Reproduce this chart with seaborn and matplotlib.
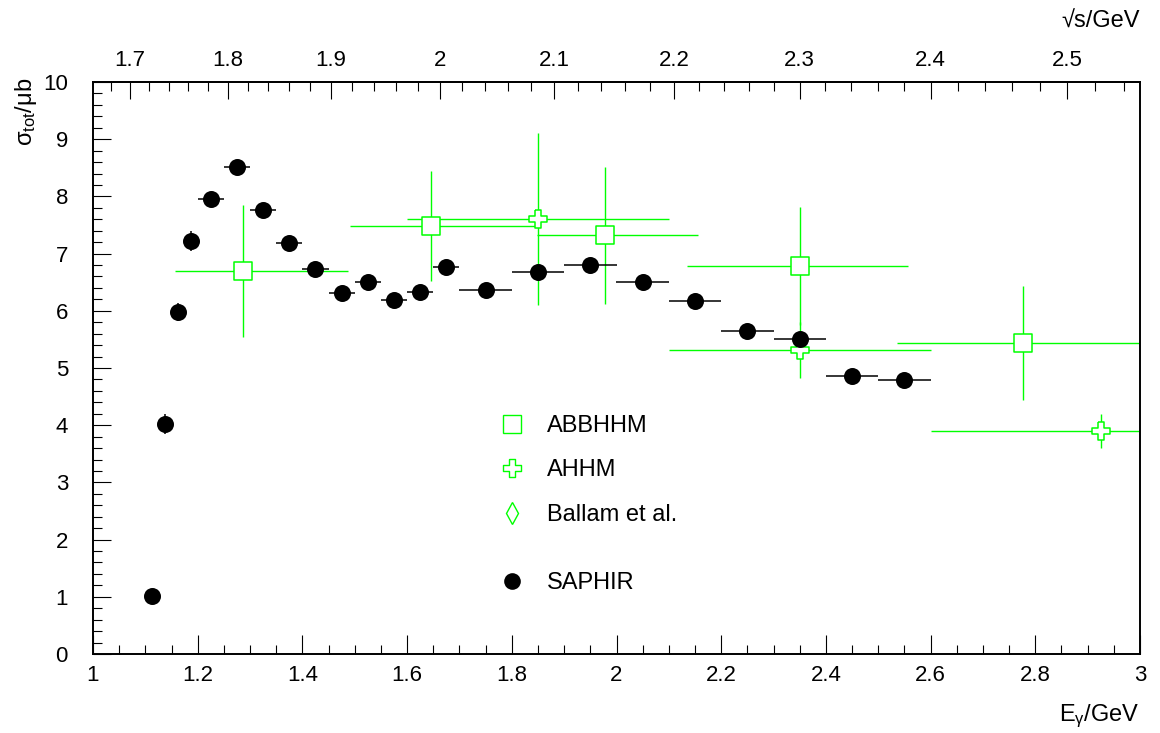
import numpy as np
import matplotlib.pyplot as plt
import seaborn as sns
from matplotlib.lines import Line2D
from matplotlib.markers import MarkerStyle
from matplotlib.path import Path
from matplotlib.ticker import MultipleLocator, FixedLocator

# SAPHIR data (photon energy, cross section, half bin width, error)
saphir_e = [1.1125, 1.1375, 1.1625, 1.1875, 1.225, 1.275, 1.325, 1.375, 1.425, 1.475,
            1.525, 1.575, 1.625, 1.675, 1.75, 1.85, 1.95, 2.05, 2.15, 2.25, 2.35, 2.45, 2.55]
saphir_sig = [1.01, 4.02, 5.98, 7.22, 7.95, 8.51, 7.76, 7.19, 6.73, 6.31,
              6.50, 6.19, 6.33, 6.77, 6.36, 6.68, 6.80, 6.50, 6.17, 5.65, 5.51, 4.86, 4.79]
saphir_de = [0.0125, 0.0125, 0.0125, 0.0125, 0.025, 0.025, 0.025, 0.025, 0.025, 0.025,
             0.025, 0.025, 0.025, 0.025, 0.05, 0.05, 0.05, 0.05, 0.05, 0.05, 0.05, 0.05, 0.05]
saphir_dsig = [0.05, 0.17, 0.16, 0.17, 0.12, 0.10, 0.10, 0.10, 0.10, 0.10,
               0.10, 0.10, 0.10, 0.10, 0.10, 0.10, 0.10, 0.10, 0.10, 0.10, 0.10, 0.10, 0.10]

# ABBHHM
abbhhm_e = [1.287, 1.646, 1.978, 2.351, 2.776]
abbhhm_sig = [6.70, 7.48, 7.32, 6.78, 5.44]
abbhhm_elo = [1.157, 1.490, 1.848, 2.135, 2.536]
abbhhm_ehi = [1.487, 1.850, 2.156, 2.557, 3.100]
abbhhm_dsig = [1.15, 0.96, 1.20, 1.03, 1.00]

# AHHM
ahhm_e = [1.850, 2.350, 2.926]
ahhm_sig = [7.60, 5.31, 3.90]
ahhm_elo = [1.600, 2.100, 2.600]
ahhm_ehi = [2.100, 2.600, 3.250]
ahhm_dsig = [1.50, 0.49, 0.29]

top_ticks = [1.7, 1.8, 1.9, 2.0, 2.1, 2.2, 2.3, 2.4, 2.5]
top_labels = ["1.7", "1.8", "1.9", "2", "2.1", "2.2", "2.3", "2.4", "2.5"]

sns.set_style("white")
plt.rcParams['font.family'] = ['Liberation Sans', 'DejaVu Sans']
plt.rcParams['mathtext.fontset'] = 'custom'
plt.rcParams['mathtext.rm'] = 'Liberation Sans'
plt.rcParams['mathtext.it'] = 'Liberation Sans:italic'
for k in ['text.color', 'axes.labelcolor', 'xtick.color', 'ytick.color']:
    plt.rcParams[k] = 'black'

GREEN = '#00ff00'
MP = 0.938272

a = 0.38
cross = MarkerStyle(Path([(-a, 1), (a, 1), (a, a), (1, a), (1, -a), (a, -a), (a, -1),
                          (-a, -1), (-a, -a), (-1, -a), (-1, a), (-a, a), (-a, 1)]))

fig = plt.figure(figsize=(11.6, 7.33), dpi=100)
ax = fig.add_axes([93 / 1160, 1 - 654 / 733, 1047 / 1160, 572 / 733])

# green error bars
e = np.array(abbhhm_e)
ax.errorbar(e, abbhhm_sig, xerr=[e - np.array(abbhhm_elo), np.array(abbhhm_ehi) - e],
            yerr=abbhhm_dsig, fmt='none', ecolor=GREEN, elinewidth=1.0, capsize=0, zorder=2)
e = np.array(ahhm_e)
ax.errorbar(e, ahhm_sig, xerr=[e - np.array(ahhm_elo), np.array(ahhm_ehi) - e],
            yerr=ahhm_dsig, fmt='none', ecolor=GREEN, elinewidth=1.0, capsize=0, zorder=2)
sns.scatterplot(x=abbhhm_e, y=abbhhm_sig, marker='s', s=160, facecolor='white',
                edgecolor=GREEN, linewidth=1.1, ax=ax, zorder=3, legend=False)
sns.scatterplot(x=ahhm_e, y=ahhm_sig, marker=cross, s=170, facecolor='white',
                edgecolor=GREEN, linewidth=1.1, ax=ax, zorder=3, legend=False)

# SAPHIR
ax.errorbar(saphir_e, saphir_sig, xerr=saphir_de, yerr=saphir_dsig, fmt='none',
            ecolor='black', elinewidth=1.1, capsize=0, zorder=4)
sns.scatterplot(x=saphir_e, y=saphir_sig, marker='o', s=150, color='black',
                linewidth=0, ax=ax, zorder=5, legend=False)

ax.set_xlim(1, 3)
ax.set_ylim(0, 10)
ax.xaxis.set_minor_locator(MultipleLocator(0.05))
ax.yaxis.set_minor_locator(MultipleLocator(0.2))
ax.set_xticks([1, 1.2, 1.4, 1.6, 1.8, 2, 2.2, 2.4, 2.6, 2.8, 3])
ax.set_xticklabels(["1", "1.2", "1.4", "1.6", "1.8", "2", "2.2", "2.4", "2.6", "2.8", "3"])
ax.set_yticks(range(11))
ax.set_yticklabels([str(i) for i in range(11)])
ax.tick_params(axis='x', which='major', direction='in', length=13.5, width=0.8,
               top=False, bottom=True, labelsize=16, pad=8, colors='black')
ax.tick_params(axis='x', which='minor', direction='in', length=6.8, width=0.8,
               top=False, bottom=True)
ax.tick_params(axis='y', which='major', direction='in', length=13, width=0.8,
               left=True, right=False, labelsize=16, pad=18, colors='black')
ax.tick_params(axis='y', which='minor', direction='in', length=6.5, width=0.8,
               left=True, right=False)
for sp in ax.spines.values():
    sp.set_linewidth(1.4)
    sp.set_color('black')

# top axis: sqrt(s)
secax = ax.secondary_xaxis('top', functions=(lambda x: np.sqrt(MP ** 2 + 2 * MP * np.clip(x, 0, None)),
                                             lambda w: (w ** 2 - MP ** 2) / (2 * MP)))
secax.set_xticks(top_ticks)
secax.set_xticklabels(top_labels)
secax.xaxis.set_minor_locator(FixedLocator(np.arange(1.66, 2.56, 0.02)))
secax.tick_params(which='major', direction='in', length=12.2, width=0.8, labelsize=16,
                  pad=8, colors='black')
secax.tick_params(which='minor', direction='in', length=6.5, width=0.8)
secax.spines['top'].set_linewidth(1.4)
secax.set_xlabel('√s/GeV', fontsize=17, loc='right')
secax.xaxis.set_label_coords(1.0, 1 + (82 - 28) / 572, transform=ax.transAxes)
secax.xaxis.label.set_va('baseline')

ax.set_xlabel(r'E$_{\mathrm{γ}}$/GeV', fontsize=17, loc='right')
ax.xaxis.set_label_coords(1.0, -(721 - 654) / 572)
ax.xaxis.label.set_va('baseline')
ax.set_ylabel(r'σ$_{\mathrm{tot}}$/μb', fontsize=17, loc='top')
ax.yaxis.set_label_coords(-(93 - 26) / 1047, 1.007)
ax.yaxis.label.set_va('center')

# legend
h1 = [Line2D([], [], ls='none', marker='s', ms=13, mfc='white', mec=GREEN, mew=1.0),
      Line2D([], [], ls='none', marker=cross, ms=13, mfc='white', mec=GREEN, mew=1.0),
      Line2D([], [], ls='none', marker='d', ms=11, mfc='white', mec=GREEN, mew=1.0)]
leg1 = ax.legend(h1, ['ABBHHM', 'AHHM', 'Ballam et al.'], loc='upper left',
                 bbox_to_anchor=((500 - 93) / 1047, (654 - 415) / 572), frameon=False,
                 fontsize=17, handlelength=1.0, handletextpad=1.0, labelspacing=0.95,
                 borderpad=0, borderaxespad=0)
ax.add_artist(leg1)
h2 = [Line2D([], [], ls='none', marker='o', ms=12, mfc='black', mec='black', mew=0)]
ax.legend(h2, ['SAPHIR'], loc='upper left',
          bbox_to_anchor=((500 - 93) / 1047, (654 - 572) / 572), frameon=False,
          fontsize=17, handlelength=1.0, handletextpad=1.0, borderpad=0, borderaxespad=0)

fig.savefig('out.png', dpi=100)
